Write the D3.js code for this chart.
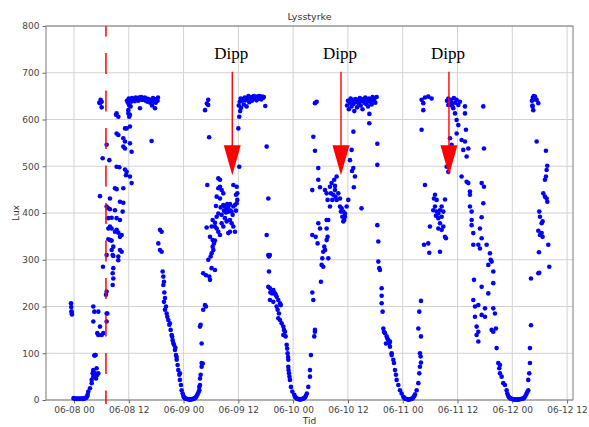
<!DOCTYPE html>
<html>
<head>
<meta charset="utf-8">
<script src="https://cdn.jsdelivr.net/npm/d3@7"></script>
<style>
  body { margin: 0; background: #fff; }
  svg { display: block; font-family: "DejaVu Sans", sans-serif; }
</style>
</head>
<body>
<div id="chart"></div>
<script>
const d3 = window.d3;

// readings: [hours since 06-08 00:00, lux]
const day0608 = [
  [-0.65,207],[-0.6,199],[-0.55,190],[-0.5,186],[-0.45,183],
  [-0.1,4],[0.1,3],[0.3,3],[0.5,2],[0.7,3],[0.9,2],[1.1,3],[1.3,2],[1.5,3],[1.7,3],[1.9,2],[2.1,3],[2.3,4],[2.5,4],[2.7,5],[2.9,8],[3.0,12],
  [3.14,18],[3.5,25],[3.87,36],[3.87,43],[4.09,57],[4.23,61],[4.23,50],[4.23,64],[4.45,95],[4.6,96],[4.74,96],[4.96,68],[5.11,54],[4.82,46],[5.33,57],[4.6,57],[4.96,53],
  [4.23,200],[4.45,189],[5.33,189],[4.23,168],[5.69,157],[5.33,139],[6.06,139],[6.42,143],[5.11,143],
  [7.15,185],[7.15,168],[7.0,225],[7.15,232],[7.3,185],[6.35,285],[7.15,310],[8.47,246],[8.61,260],[10.66,403],[9.7,299],[9.34,364],
  [7.52,410],[7.88,408],[7.15,414],[7.52,389],[8.25,390],[7.88,371],[7.52,367],[8.25,367],[7.52,344],[7.88,342],[8.25,341],[8.61,328],[8.25,321],[8.47,310],[8.61,308],[8.61,282],[8.47,271],
  [8.98,360],[9.71,358],[10.07,349],[10.44,353],[10.07,321],[10.44,317],[9.71,307],[10.07,424],[10.8,422],[8.98,406],[9.34,389],[10.07,385],
  [5.69,436],[7.88,431],[6.28,517],[7.74,513],[7.15,546],[5.84,642],[6.06,638],[5.69,635],[6.06,626],[5.55,636],
  [9.34,613],[9.71,606],[9.2,610],[11.9,613],[12.1,606],[12.26,610],[12.26,585],[11.53,581],[11.17,581],[9.34,570],[9.71,567],[10.8,560],[11.17,553],[10.8,542],[11.17,538],[12.26,549],[12.63,531],
  [9.34,499],[9.93,498],[11.17,493],[11.53,488],[11.39,481],[12.26,478],[12.63,464],[8.98,453],[9.34,451],[10.8,453],
  [11.6,640],[11.8,636],[12.0,645],[12.1,630],[12.3,642],[12.5,638],[12.7,646],[12.9,641],[13.1,644],[13.3,639],[13.5,647],[13.7,643],[13.9,645],[14.1,640],[14.3,647],[14.5,644],[14.7,648],[14.9,642],
  [15.1,646],[15.3,643],[15.5,647],[15.7,640],[15.9,645],[16.1,638],[16.3,644],[16.5,641],[16.7,636],[16.9,642],[17.1,630],[17.3,646],[17.5,638],[17.7,642],[17.9,636],[18.1,644],[18.3,640],[18.4,647],
  [12.4,628],[11.9,620],[14.45,624],[17.74,624],[17.0,554],
  [18.83,364],[19.2,360],[18.47,335],[18.83,321],[19.2,317],[19.42,275],[19.57,264],[19.71,253],[19.57,246],[19.78,230],[19.93,218],[19.71,210],[20.15,200],[19.93,193],[20.3,185],[20.44,178],
  [20.66,171],[20.88,161],[21.0,164],[21.17,150],[21.39,139],[21.5,136],[21.61,128],[21.75,122],[21.9,118],[22.12,107],[22.2,112],[22.34,96],[22.48,92],[22.49,86],[22.7,75],[22.85,64],
  [23.07,54],[23.2,57],[23.2,43],[23.43,32],[23.58,21],[23.8,14],[23.95,9]
];

const day0609 = [
  [24.1,6],[24.3,4],[24.5,3],[24.7,2],[24.9,2],[25.1,1],[25.3,1],[25.5,1],[25.7,1],[25.9,2],[26.1,2],[26.3,3],[26.5,4],[26.7,6],[26.9,9],[27.1,13],[27.3,17],
  [27.45,21],[27.6,32],[27.74,54],[27.96,79],[27.96,71],[27.96,121],[27.74,161],[27.6,157],[28.3,193],[28.9,200],[28.69,203],[27.45,28],[27.6,46],[28.2,78],
  [28.3,271],[28.91,267],[29.79,257],[29.64,264],[30.15,282],[30.88,278],[29.42,300],[29.93,307],[30.15,314],[30.52,321],[30.37,328],[30.66,335],[30.88,341],[30.37,342],[29.79,349],
  [29.06,369],[30.15,371],[30.88,371],[31.25,367],[31.61,360],[31.98,353],[29.2,460],
  [31.61,474],[31.98,471],[31.98,456],[31.61,453],[32.34,449],[32.71,442],[31.25,435],[31.98,431],[32.71,417],[33.07,414],[33.44,410],[33.8,414],[34.17,406],[34.53,403],[34.9,414],
  [35.26,417],[35.63,421],[35.48,439],[35.63,456],[34.9,460],[31.25,392],[31.61,399],[32.34,396],[33.07,389],[33.44,382],[34.17,385],[34.53,378],[34.9,371],[34.17,360],[33.8,357],
  [35.26,360],[32.34,378],[32.71,371],[35.77,428],[35.77,442],[35.48,405],[34.75,396],[33.87,403],[33.29,401],[32.85,405],[33.58,419],[34.17,419],[32.12,412],[31.1,415],[30.37,385],[30.88,379],
  [28.7,620],[29.1,634],[29.4,642],[29.4,631],[29.6,562],
  [36.1,630],[36.3,638],[36.5,645],[36.6,625],[36.8,640],[37.0,644],[37.2,632],[37.4,647],[37.6,641],[37.8,628],[38.0,645],[38.2,650],[38.4,637],[38.6,643],[38.8,648],[39.0,640],
  [39.2,646],[39.4,650],[39.6,644],[39.8,648],[40.0,641],[40.2,649],[40.4,645],[40.6,650],[40.8,647],[41.0,643],[41.2,649],[41.4,646],[41.6,648],[41.9,629],
  [36.4,618],[36.2,606],[36.0,581],[36.2,499],[42.2,542],[42.56,431],
  [42.2,353],[42.56,310],[42.71,307],[42.9,310],[42.71,275],[42.56,242],[42.93,239],[43.0,230],[43.29,232],[43.4,228],[43.66,235],[44.02,228],[44.2,225],[44.39,221],[42.93,214],[43.66,210],
  [44.75,214],[45.12,207],[45.3,203],[44.39,200],[44.6,193],[44.9,185],[44.75,175],[45.12,171],[45.48,164],[45.85,157],[46.0,150],[46.21,146],[45.85,139],[46.36,136],[46.58,118],
  [46.7,110],[46.79,100],[46.9,92],[46.94,86],[46.94,71],[47.0,64],[47.09,57],[47.2,50],[47.3,43],[47.52,28],[47.82,18],[48.25,11]
];

const day0610 = [
  [48.4,7],[48.6,5],[48.8,3],[49.0,2],[49.2,2],[49.4,1],[49.6,1],[49.8,2],[50.0,2],[50.2,3],[50.4,4],[50.6,6],[50.8,9],[51.0,14],
  [51.32,28],[51.69,50],[51.69,64],[51.9,96],[52.63,136],[52.78,146],[52.78,150],[52.42,214],[52.2,230],
  [54.09,253],[54.24,289],[54.6,285],[54.39,303],[55.7,303],[54.6,317],[55.0,321],[54.82,328],[53.36,335],[55.34,342],[55.55,349],[52.2,353],[52.93,349],[53.88,367],[55.34,367],[55.7,385],[55.34,385],[53.51,378],
  [52.2,449],[53.88,455],[54.97,449],[55.34,442],[56.07,456],[56.43,464],[57.0,471],[57.53,478],[57.16,449],[56.8,439],[56.58,428],[57.53,428],[58.26,431],[58.62,410],[58.99,403],
  [59.35,399],[58.77,392],[59.2,385],[58.26,414],[59.72,414],[60.08,428],[55.55,428],[56.07,414],[56.28,442],[57.16,458],[57.89,442],[57.3,434],[58.47,403],[58.99,382],[59.35,392],
  [53.51,496],[53.51,471],[52.78,533],[52.42,563],[52.78,635],[53.15,638],
  [61.2,574],[60.81,535],[60.45,513],[61.18,496],[61.54,478],[61.3,455],[60.9,490],[62.97,410],
  [59.8,630],[60.0,640],[60.2,622],[60.4,636],[60.6,645],[60.8,628],[61.0,641],[61.2,633],[61.4,618],[61.6,644],[61.8,637],[62.0,626],[62.2,642],[62.4,635],[62.6,646],[62.8,630],[63.0,640],
  [63.2,622],[63.4,644],[63.6,636],[63.8,647],[64.0,633],[64.2,641],[64.4,628],[64.6,645],[64.8,638],[65.0,643],[65.2,632],[65.4,648],[65.6,640],[65.8,645],[66.0,636],[66.3,648],[64.7,612],[64.68,592],
  [66.44,548],[66.44,503],[66.44,374],[66.66,339],[66.66,296],[66.87,282],[67.02,278],[67.39,239],[67.39,223],[67.39,207],[67.6,189],[67.75,153],[68.12,143],[68.48,136],[68.85,128],[68.33,121],
  [69.21,114],[67.9,146],[68.63,132],[69.06,121],[69.21,125],[69.58,96],[69.58,100],[69.94,86],[70.09,79],[70.31,64],[70.52,54],[70.67,43],[71.04,32],[71.4,21],[71.77,14],[72.13,7]
];

const day0611 = [
  [72.3,5],[72.5,3],[72.7,2],[72.9,2],[73.1,1],[73.3,1],[73.5,1],[73.7,2],[73.9,2],[74.1,3],[74.3,5],[74.5,8],[74.7,12],
  [75.05,21],[75.42,36],[75.63,57],[75.78,71],[75.93,93],[75.42,153],[76.0,136],[75.63,189],[76.0,212],[75.78,100],[76.0,80],
  [76.88,460],[76.66,332],[77.6,335],[77.82,315],[79.07,439],[79.43,428],[78.85,431],[81.26,429],[81.47,346],[80.16,317],[78.7,406],[79.07,414],[79.43,403],[79.8,399],[80.16,406],
  [80.53,414],[80.89,403],[80.53,392],[79.8,389],[79.28,394],[80.16,378],[80.89,371],[79.8,367],[80.53,364],[81.26,349],[77.97,371],
  [76.14,642],[76.88,647],[77.6,649],[78.34,645],[76.51,635],[76.51,620],[76.14,578],
  [81.99,631],[82.72,635],[83.08,624],[83.81,642],[84.18,631],[83.45,613],[83.81,599],[84.18,588],[83.81,570],[82.35,560],[82.72,546],[81.62,499],[81.99,488],
  [81.7,640],[82.0,645],[82.3,632],[82.6,642],[82.9,628],[83.2,646],[83.5,636],
  [84.54,638],[85.64,628],[85.64,613],[85.85,578],[84.9,556],[85.64,553],[85.27,535],[86.37,538],[86.0,521],[84.9,478],[86.0,467],[86.37,464],[86.73,446],[86.73,439],[86.73,414],
  [87.1,403],[87.1,385],[87.1,374],[87.46,357],[87.46,332],[88.56,332],[88.92,324],[90.38,332],[89.65,628],[89.8,538],[89.29,464],[89.8,456],[89.65,421],[89.29,391],[88.92,367],[89.29,346],
  [91.11,314],[91.26,300],[91.48,296],[90.75,289],[91.84,275],[87.61,257],[89.29,242],[91.84,250],[90.75,228],[87.46,214],[87.83,200],[88.56,203],[89.29,182],[90.02,196],[90.02,178],
  [91.84,196],[92.2,185],[87.83,178],[88.19,157],[88.56,146],[88.19,139],[88.56,125],[91.48,150],[91.84,146],[92.42,153],[92.57,111],[92.94,79],[93.3,75],[93.15,68],[93.3,57],
  [93.67,50],[94.03,36],[94.4,32],[94.76,21]
];

const day0612 = [
  [94.9,14],[95.1,9],[95.3,6],[95.5,4],[95.7,3],[95.9,2],[96.1,2],[96.3,1],[96.5,1],[96.7,1],[96.9,1],[97.1,1],[97.3,1],[97.5,1],[97.7,2],[97.9,2],[98.1,2],[98.3,3],[98.5,4],[98.7,6],[98.9,9],[99.1,13],[99.3,17],
  [99.5,21],[99.5,43],[99.72,57],[99.87,79],[99.87,111],[100.09,160],[100.09,260],[101.7,271],[101.91,272],[104.1,285],[101.84,316],[103.88,332],[102.06,353],[102.43,357],[102.64,349],
  [101.7,362],[102.43,378],[102.06,392],[101.91,403],[102.64,382],[103.16,435],[103.52,431],[103.67,424],[102.79,442],[103.16,471],[103.37,478],[103.52,492],[103.67,501],[103.37,533],[101.33,553],
  [100.6,642],[100.97,649],[101.33,642],[101.7,635],[100.6,620],[100.45,628],[100.75,647],[100.3,640],[100.5,647],[100.7,650],[100.9,648],[101.1,644],[100.4,630]
];

const luxTicks = [0, 100, 200, 300, 400, 500, 600, 700, 800];
const dippHours = [34.67, 58.48, 82.13];   // where the "Dipp" arrows point
const dippTipLux = 481;
const dippTopLux = 702;
const markerHour = 7.0;                   // dashed red line

const width = 589;
const height = 427;
const margin = {top: 26, right: 16, bottom: 27, left: 46};

const base = new Date(2023, 5, 8);
const toDate = h => new Date(base.getTime() + h * 3600e3);

const x = d3.scaleTime()
  .domain([toDate(-6.13), toDate(109.3)])
  .range([margin.left, width - margin.right]);
const y = d3.scaleLinear()
  .domain([0, 800])
  .range([height - margin.bottom, margin.top]);

const svg = d3.select('#chart').append('svg')
  .attr('width', width)
  .attr('height', height);

const xTicks = x.ticks(d3.timeHour.every(12));
const fmt = d3.timeFormat('%m-%d %H');

// grid
svg.append('g').selectAll('line').data(xTicks).enter().append('line')
  .attr('x1', d => x(d)).attr('x2', d => x(d))
  .attr('y1', margin.top).attr('y2', height - margin.bottom)
  .attr('stroke', '#d2d2d2').attr('stroke-width', 1);
svg.append('g').selectAll('line').data(luxTicks).enter().append('line')
  .attr('x1', margin.left).attr('x2', width - margin.right)
  .attr('y1', d => y(d)).attr('y2', d => y(d))
  .attr('stroke', '#d2d2d2').attr('stroke-width', 1);

// axes
const xAxis = svg.append('g')
  .attr('transform', `translate(0,${height - margin.bottom})`)
  .call(d3.axisBottom(x).tickValues(xTicks).tickFormat(fmt).tickSize(3.5).tickPadding(3));
const yAxis = svg.append('g')
  .attr('transform', `translate(${margin.left},0)`)
  .call(d3.axisLeft(y).tickValues(luxTicks).tickSize(3.5).tickPadding(3));
[xAxis, yAxis].forEach(g => {
  g.select('.domain').remove();
  g.selectAll('line').attr('stroke', '#666');
  g.selectAll('text').attr('fill', '#444').style('font-size', '9px').style('font-family', '"DejaVu Sans", sans-serif');
});

// frame
svg.append('rect')
  .attr('x', margin.left).attr('y', margin.top)
  .attr('width', width - margin.left - margin.right)
  .attr('height', height - margin.top - margin.bottom)
  .attr('fill', 'none').attr('stroke', '#7a7a7a').attr('stroke-width', 1);

// points
const allPoints = [].concat(day0608, day0609, day0610, day0611, day0612);
svg.append('g').selectAll('circle').data(allPoints).enter().append('circle')
  .attr('cx', d => x(toDate(d[0])))
  .attr('cy', d => y(d[1]))
  .attr('r', 2.3)
  .attr('fill', '#0000ff');

// dashed marker line
svg.append('line')
  .attr('x1', x(toDate(markerHour))).attr('x2', x(toDate(markerHour)))
  .attr('y1', margin.top).attr('y2', height - margin.bottom + 4)
  .attr('stroke', '#ff0000').attr('stroke-width', 1.5)
  .attr('stroke-dasharray', '21,16.5').attr('stroke-dashoffset', 10.5);

// Dipp annotations
const headH = 30, headW = 17;
const ann = svg.append('g').selectAll('g').data(dippHours).enter().append('g');
ann.append('line')
  .attr('x1', d => x(toDate(d))).attr('x2', d => x(toDate(d)))
  .attr('y1', y(dippTopLux)).attr('y2', y(dippTipLux) - headH + 1)
  .attr('stroke', '#ff0000').attr('stroke-width', 1.4);
ann.append('path')
  .attr('d', d => {
    const cx = x(toDate(d)), ty = y(dippTipLux);
    return `M${cx - headW / 2},${ty - headH}L${cx + headW / 2},${ty - headH}L${cx},${ty}Z`;
  })
  .attr('fill', '#ff0000');
ann.append('text')
  .attr('x', d => x(toDate(d)) - 1)
  .attr('y', y(dippTopLux) - 13)
  .attr('text-anchor', 'middle')
  .style('font-family', '"Liberation Serif", "Times New Roman", serif')
  .style('font-size', '17px')
  .attr('fill', '#000')
  .text('Dipp');

// titles
const cx = (margin.left + width - margin.right) / 2;
svg.append('text').attr('x', cx).attr('y', 20)
  .attr('text-anchor', 'middle').style('font-size', '9.5px').attr('fill', '#333')
  .text('Lysstyrke');
svg.append('text').attr('x', cx).attr('y', 424)
  .attr('text-anchor', 'middle').style('font-size', '9px').attr('fill', '#333')
  .text('Tid');
svg.append('text')
  .attr('transform', `translate(19,${(margin.top + height - margin.bottom) / 2}) rotate(-90)`)
  .attr('text-anchor', 'middle').style('font-size', '9px').attr('fill', '#333')
  .text('Lux');
</script>
</body>
</html>
